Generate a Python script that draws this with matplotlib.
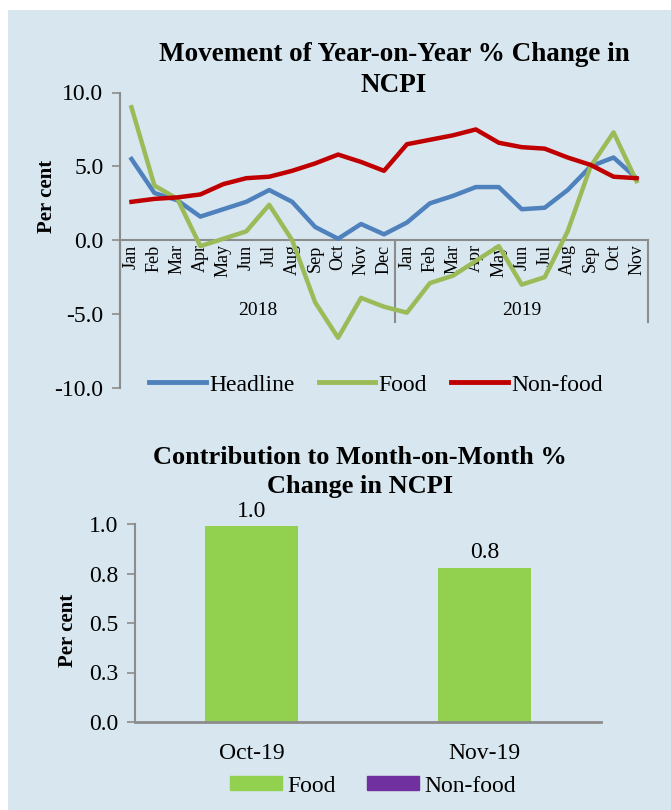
import matplotlib
matplotlib.use("Agg")
import matplotlib.pyplot as plt
import numpy as np
from matplotlib.patches import Rectangle
from matplotlib.lines import Line2D

plt.rcParams['font.family'] = ['Liberation Serif', 'DejaVu Serif']

# ---- Data: Year-on-Year % change in NCPI ----
months = ["Jan", "Feb", "Mar", "Apr", "May", "Jun", "Jul", "Aug", "Sep", "Oct", "Nov", "Dec",
          "Jan", "Feb", "Mar", "Apr", "May", "Jun", "Jul", "Aug", "Sep", "Oct", "Nov"]
years = ["2018", "2019"]
headline = [5.5, 3.2, 2.7, 1.6, 2.1, 2.6, 3.4, 2.6, 0.9, 0.1, 1.1, 0.4,
            1.2, 2.5, 3.0, 3.6, 3.6, 2.1, 2.2, 3.4, 5.0, 5.6, 4.2]
food = [9.0, 3.7, 2.8, -0.4, 0.1, 0.6, 2.4, 0.0, -4.2, -6.6, -3.9, -4.5,
        -4.9, -2.9, -2.4, -1.4, -0.4, -3.0, -2.5, 0.6, 5.0, 7.3, 4.0]
nonfood = [2.6, 2.8, 2.9, 3.1, 3.8, 4.2, 4.3, 4.7, 5.2, 5.8, 5.3, 4.7,
           6.5, 6.8, 7.1, 7.5, 6.6, 6.3, 6.2, 5.6, 5.1, 4.3, 4.2]
yoy_ticks = [-10, -5, 0, 5, 10]
yoy_ticklabels = ["-10.0", "-5.0", "0.0", "5.0", "10.0"]

# ---- Data: Contribution to Month-on-Month % change ----
mom_cats = ["Oct-19", "Nov-19"]
mom_food = [0.99, 0.78]
mom_nonfood = [-0.01, 0.0]
mom_ticks = [0.0, 0.25, 0.5, 0.75, 1.0]
mom_ticklabels = ["0.0", "0.3", "0.5", "0.8", "1.0"]

W, H = 671, 810
BG = "#D7E6EF"
AXC = "#8C8C8C"
C_HEAD = "#4F81BD"
C_FOOD = "#9BBB59"
C_NON = "#C00000"
C_BFOOD = "#92D050"
C_BNON = "#7030A0"

fig = plt.figure(figsize=(W / 100, H / 100), dpi=100, facecolor="white")
fig.patches.append(Rectangle((8 / W, 0), 1, 1 - 10 / H, transform=fig.transFigure,
                             facecolor=BG, edgecolor="none", zorder=-10))

def fx(px):
    return px / W

def fy(py):
    return 1 - py / H

# ================= Top chart =================
ax1 = fig.add_axes([fx(120), fy(388), fx(648) - fx(120), fy(92.5) - fy(388)])
ax1.set_facecolor("none")
x = np.arange(len(months))
ax1.plot(x, headline, color=C_HEAD, lw=3.2, solid_joinstyle="round", zorder=3)
ax1.plot(x, food, color=C_FOOD, lw=3.2, solid_joinstyle="round", zorder=3)
ax1.plot(x, nonfood, color=C_NON, lw=3.2, solid_joinstyle="round", zorder=4)
ax1.set_xlim(-0.5, len(months) - 0.5)
ax1.set_ylim(-10, 10)
ax1.set_yticks(yoy_ticks)
ax1.set_yticklabels(yoy_ticklabels, fontsize=17)
ax1.tick_params(axis="y", direction="out", length=6, width=1.2, color=AXC, pad=6)
for s in ["top", "right"]:
    ax1.spines[s].set_visible(False)
ax1.spines["left"].set_color(AXC)
ax1.spines["left"].set_linewidth(1.5)
ax1.spines["bottom"].set_position(("data", 0))
ax1.spines["bottom"].set_color(AXC)
ax1.spines["bottom"].set_linewidth(1.5)
ax1.set_xticks(x)
ax1.set_xticklabels(months, rotation=90, fontsize=13, va="top", ha="center")
ax1.tick_params(axis="x", length=0, pad=3)
# year group separators
sep_depth = -(322 - 240) / 14.8
for xs in [-0.5, 11.5, len(months) - 0.5]:
    ax1.plot([xs, xs], [0, sep_depth], color=AXC, lw=1.5, clip_on=False, zorder=2)
ax1.text(5.5, -(310 - 240) / 14.8, years[0], ha="center", va="center", fontsize=14)
ax1.text(17.0, -(310 - 240) / 14.8, years[1], ha="center", va="center", fontsize=14)

fig.text(fx(47), fy(196), "Per cent", rotation=90, ha="center", va="center",
         fontsize=15, fontweight="bold")
fig.text(fx(394), fy(70), "Movement of Year-on-Year % Change in\nNCPI", ha="center",
         va="center", fontsize=19.5, fontweight="bold", linespacing=1.35)

h1 = [Line2D([], [], color=C_HEAD, lw=3.5),
      Line2D([], [], color=C_FOOD, lw=3.5),
      Line2D([], [], color=C_NON, lw=3.5)]
fig.legend(h1, ["Headline", "Food", "Non-food"], loc="center",
           bbox_to_anchor=(fx(376), fy(385)), ncol=3, frameon=False, fontsize=17,
           handlelength=2.4, handletextpad=0.15, columnspacing=1.0)

# ================= Bottom chart =================
ax2 = fig.add_axes([fx(135), fy(722), fx(601) - fx(135), fy(524) - fy(722)])
ax2.set_facecolor("none")
xb = np.arange(len(mom_cats))
food_arr = np.array(mom_food)
non_arr = np.array(mom_nonfood)
bars = ax2.bar(xb, food_arr, width=0.4, color=C_BFOOD, zorder=2)
ax2.bar(xb, non_arr, width=0.4, bottom=np.where(non_arr >= 0, food_arr, 0),
        color=C_BNON, zorder=2)
ax2.bar_label(bars, labels=[f"{v:.1f}" for v in mom_food], padding=3, fontsize=17)
ax2.set_xlim(-0.5, 1.5)
ax2.set_ylim(0, 1.0)
ax2.set_yticks(mom_ticks)
ax2.set_yticklabels(mom_ticklabels, fontsize=17)
ax2.tick_params(axis="y", direction="out", length=6, width=1.2, color=AXC, pad=6)
ax2.set_xticks(xb)
ax2.set_xticklabels(mom_cats, fontsize=17)
ax2.tick_params(axis="x", length=0, pad=15)
for s in ["top", "right"]:
    ax2.spines[s].set_visible(False)
ax2.spines["left"].set_color(AXC)
ax2.spines["left"].set_linewidth(1.5)
ax2.spines["bottom"].set_color(AXC)
ax2.spines["bottom"].set_linewidth(2.0)
ax2.spines["bottom"].set_zorder(3)

fig.text(fx(68), fy(630), "Per cent", rotation=90, ha="center", va="center",
         fontsize=15, fontweight="bold")
fig.text(fx(360), fy(472), "Contribution to Month-on-Month %\nChange in NCPI", ha="center",
         va="center", fontsize=19, fontweight="bold", linespacing=1.35)

h2 = [Rectangle((0, 0), 1, 1, color=C_BFOOD), Rectangle((0, 0), 1, 1, color=C_BNON)]
fig.legend(h2, ["Food", "Non-food"], loc="center", bbox_to_anchor=(fx(373), fy(786)),
           ncol=2, frameon=False, fontsize=17, handlelength=2.2, handleheight=0.5,
           handletextpad=0.2, columnspacing=1.35)

fig.savefig("out.png", dpi=100, facecolor="white")
